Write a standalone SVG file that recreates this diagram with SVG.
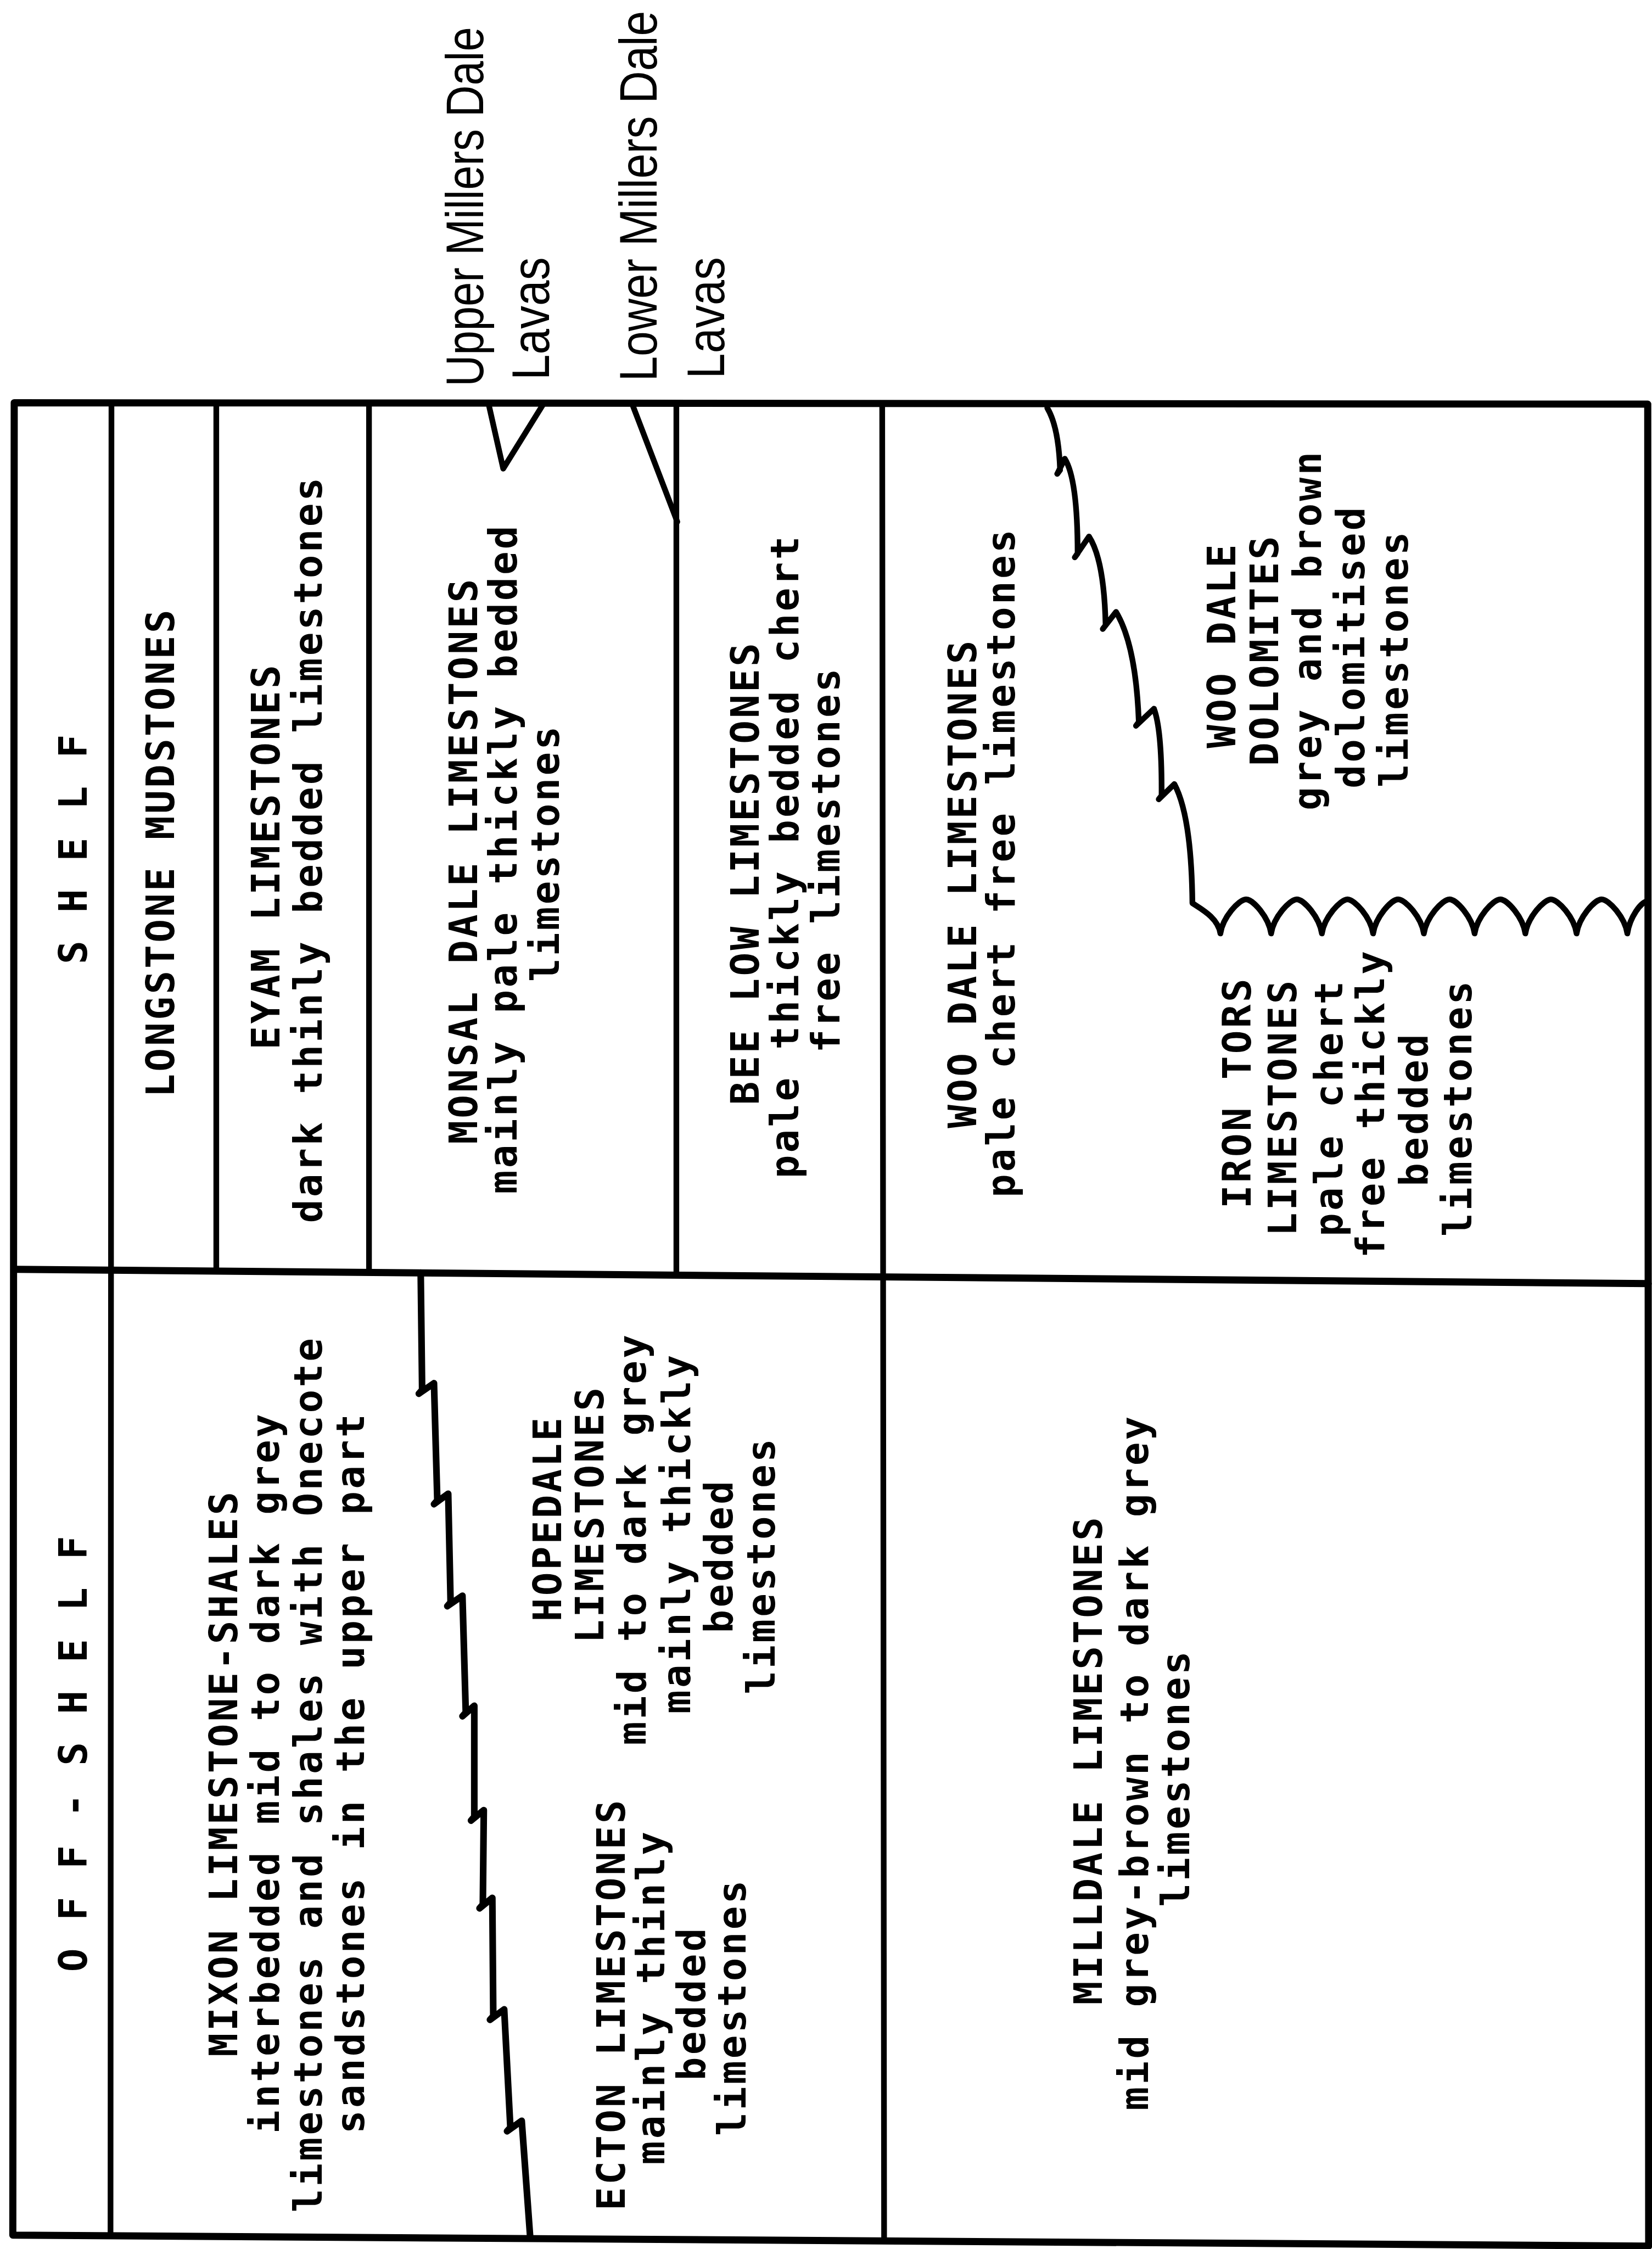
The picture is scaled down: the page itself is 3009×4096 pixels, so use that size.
<svg xmlns="http://www.w3.org/2000/svg" width="3009" height="4096" viewBox="0 0 3009 4096">
<style>
.m{font-family:"DejaVu Sans Mono","Liberation Mono",monospace;font-weight:bold;font-size:82px;letter-spacing:5px;text-anchor:middle;fill:#000}
.s{font-family:"Liberation Sans",Arial,sans-serif;font-size:112px;fill:#000}
.ln{stroke:#000;stroke-width:12;fill:none;stroke-linecap:round;stroke-linejoin:round}
.bd{stroke-width:15}
.th{stroke-width:14}
</style>
<rect x="0" y="0" width="3009" height="4096" fill="#fff"/>
<g transform="scale(0.86391)">
<g id="grid" class="ln">
<path class="bd" d="M30 849 L3474 852 L3476 4735 L27 4712 Z"/>
<path d="M235 849 L233 4713"/>
<path d="M456 849 L456 2680"/>
<path d="M778 849 L778 2683"/>
<path d="M1426 849 L1426 2688"/>
<path d="M1860 850 L1864 4724"/>
<path class="bd" d="M30 2676 L3475 2706"/>
</g>
<g id="connectors" class="ln">
<path id="mixon-boundary" class="th" d="M887 2683 L890 2930 L883 2938 L915 2916 L922 3163 L915 3171 L945 3149 L950 3378 L943 3386 L975 3364 L982 3610 L975 3618 L1000 3596 L1000 3830 L993 3838 L1020 3816 L1018 4015 L1011 4023 L1038 4001 L1040 4250 L1033 4258 L1063 4236 L1076 4485 L1069 4493 L1100 4471 L1118 4719"/>
<path id="dolomite-boundary" d="M2208 860 Q2232 900 2235 991 L2229 999 L2245 967 Q2272 1010 2272 1167 L2266 1175 L2296 1131 Q2328 1180 2331 1318 L2325 1326 L2353 1290 Q2395 1360 2401 1522 L2395 1530 L2433 1494 Q2450 1540 2449 1677 L2443 1685 L2476 1653 Q2512 1720 2514 1904 C2530 1915 2568 1934 2573 1968 C2578 1934 2612 1896 2627 1896 C2642 1896 2675 1934 2680 1968 C2685 1934 2719 1896 2734 1896 C2749 1896 2782 1934 2787 1968 C2792 1934 2826 1896 2841 1896 C2856 1896 2890 1934 2895 1968 C2900 1934 2933 1896 2948 1896 C2963 1896 2997 1934 3002 1968 C3007 1934 3041 1896 3056 1896 C3071 1896 3104 1934 3109 1968 C3114 1934 3148 1896 3163 1896 C3178 1896 3211 1934 3216 1968 C3221 1934 3255 1896 3270 1896 C3285 1896 3319 1934 3324 1968 C3329 1934 3362 1896 3377 1896 C3392 1896 3426 1934 3431 1968 C3436 1934 3460 1900 3474 1900"/>
<path id="upper-lava" d="M1030 851 L1061 988 L1146 851"/>
<path id="lower-lava" d="M1333 852 L1428 1100"/>
</g>
<g id="lava-labels">
<text class="s" transform="translate(1019,815) rotate(-90) scale(0.823,1)">Upper Millers Dale</text>
<text class="s" transform="translate(1157,801) rotate(-90) scale(0.866,1)">Lavas</text>
<text class="s" transform="translate(1384,804) rotate(-90) scale(0.848,1)">Lower Millers Dale</text>
<text class="s" transform="translate(1527,798) rotate(-90) scale(0.856,1)">Lavas</text>
</g>
<g id="header-shelf"><text class="m" transform="translate(183,1788) rotate(-90)">S H E L F</text></g>
<g id="header-offshelf"><text class="m" transform="translate(183,3695) rotate(-90)">O F F - S H E L F</text></g>
<g id="longstone"><text class="m" transform="translate(367,1797) rotate(-90)">LONGSTONE MUDSTONES</text></g>
<g id="eyam">
<text class="m" transform="translate(589,1805) rotate(-90)">EYAM LIMESTONES</text>
<text class="m" transform="translate(678,1790) rotate(-90)">dark thinly bedded limestones</text>
</g>
<g id="monsal">
<text class="m" transform="translate(1006,1814) rotate(-90)">MONSAL DALE LIMESTONES</text>
<text class="m" transform="translate(1089,1810) rotate(-90)">mainly pale thickly bedded</text>
<text class="m" transform="translate(1178,1798) rotate(-90)">limestones</text>
</g>
<g id="beelow">
<text class="m" transform="translate(1600,1840) rotate(-90)">BEE LOW LIMESTONES</text>
<text class="m" transform="translate(1683,1805) rotate(-90)">pale thickly bedded chert</text>
<text class="m" transform="translate(1770,1812) rotate(-90)">free limestones</text>
</g>
<g id="woodale">
<text class="m" transform="translate(2058,1862) rotate(-90)">WOO DALE LIMESTONES</text>
<text class="m" transform="translate(2139,1818) rotate(-90)">pale chert free limestones</text>
</g>
<g id="woodale-dolomites">
<text class="m" transform="translate(2605,1360) rotate(-90)">WOO DALE</text>
<text class="m" transform="translate(2695,1370) rotate(-90)">DOLOMITES</text>
<text class="m" transform="translate(2785,1328) rotate(-90)">grey and brown</text>
<text class="m" transform="translate(2877,1363) rotate(-90)">dolomitised</text>
<text class="m" transform="translate(2968,1388) rotate(-90)">limestones</text>
</g>
<g id="irontors">
<text class="m" transform="translate(2637,2303) rotate(-90)">IRON TORS</text>
<text class="m" transform="translate(2733,2334) rotate(-90)">LIMESTONES</text>
<text class="m" transform="translate(2830,2335) rotate(-90)">pale chert</text>
<text class="m" transform="translate(2918,2326) rotate(-90)">free thickly</text>
<text class="m" transform="translate(3010,2338) rotate(-90)">bedded</text>
<text class="m" transform="translate(3102,2335) rotate(-90)">limestones</text>
</g>
<g id="mixon">
<text class="m" transform="translate(500,3738) rotate(-90)">MIXON LIMESTONE-SHALES</text>
<text class="m" transform="translate(588,3737) rotate(-90)">interbedded mid to dark grey</text>
<text class="m" transform="translate(678,3740) rotate(-90)">limestones and shales with Onecote</text>
<text class="m" transform="translate(767,3737) rotate(-90)">sandstones in the upper part</text>
</g>
<g id="hopedale">
<text class="m" transform="translate(1183,3201) rotate(-90)">HOPEDALE</text>
<text class="m" transform="translate(1272,3192) rotate(-90)">LIMESTONES</text>
<text class="m" transform="translate(1361,3244) rotate(-90)">mid to dark grey</text>
<text class="m" transform="translate(1455,3232) rotate(-90)">mainly thickly</text>
<text class="m" transform="translate(1544,3280) rotate(-90)">bedded</text>
<text class="m" transform="translate(1633,3300) rotate(-90)">limestones</text>
</g>
<g id="ecton">
<text class="m" transform="translate(1317,4225) rotate(-90)">ECTON LIMESTONES</text>
<text class="m" transform="translate(1401,4210) rotate(-90)">mainly thinly</text>
<text class="m" transform="translate(1486,4223) rotate(-90)">bedded</text>
<text class="m" transform="translate(1572,4231) rotate(-90)">limestones</text>
</g>
<g id="milldale">
<text class="m" transform="translate(2323,3710) rotate(-90)">MILLDALE LIMESTONES</text>
<text class="m" transform="translate(2420,3715) rotate(-90)">mid grey-brown to dark grey</text>
<text class="m" transform="translate(2507,3748) rotate(-90)">limestones</text>
</g>
</g>
</svg>
